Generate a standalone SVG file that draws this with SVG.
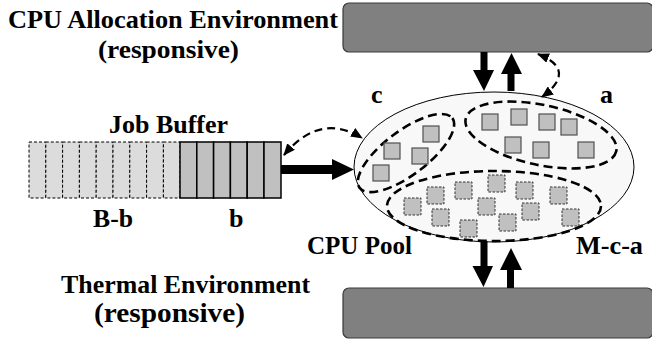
<svg xmlns="http://www.w3.org/2000/svg" width="652" height="345" viewBox="0 0 652 345">
<style>
.t{font-family:"Liberation Serif",serif;font-weight:bold;font-size:26px;fill:#000}
.env{fill:#808080;stroke:#3a3a3a;stroke-width:1.2}
.grp{fill:none;stroke:#000;stroke-width:2.6;stroke-dasharray:9,5}
.sq{fill:#c0c0c0;stroke:#505050;stroke-width:1.2}
.dsq{fill:#c0c0c0;stroke:#333;stroke-width:1;stroke-dasharray:2.5,1.5}
.cellD{fill:#dcdcdc;stroke:#000;stroke-width:1;stroke-dasharray:3,2}
.cellS{fill:#c0c0c0;stroke:#000;stroke-width:1.5}
.dl{fill:none;stroke:#000;stroke-width:2.2;stroke-dasharray:8,5}
.ar{fill:#000}
</style>
<defs>
<marker id="mh" viewBox="0 0 12 10" refX="11" refY="5" markerWidth="12" markerHeight="10" markerUnits="userSpaceOnUse" orient="auto-start-reverse">
<path d="M0,0 L12,5 L0,10 Z" fill="#000"/>
</marker>
</defs>

<g id="cpu-alloc-env">
<rect class="env" x="343" y="3" width="310" height="49" rx="6"/>
<text class="t" x="8" y="28" textLength="330" lengthAdjust="spacingAndGlyphs">CPU Allocation Environment</text>
<text class="t" x="98" y="57.5" textLength="141" lengthAdjust="spacingAndGlyphs">(responsive)</text>
</g>

<g id="thermal-env">
<rect class="env" x="343" y="288" width="310" height="50" rx="6"/>
<text class="t" x="61" y="293" textLength="249" lengthAdjust="spacingAndGlyphs">Thermal Environment</text>
<text class="t" x="94" y="322" style="font-size:27px" textLength="151" lengthAdjust="spacingAndGlyphs">(responsive)</text>
</g>

<g id="job-buffer">
<rect class="cellD" x="29" y="142" width="16.8" height="56"/>
<rect class="cellD" x="45.8" y="142" width="16.8" height="56"/>
<rect class="cellD" x="62.6" y="142" width="16.8" height="56"/>
<rect class="cellD" x="79.4" y="142" width="16.8" height="56"/>
<rect class="cellD" x="96.2" y="142" width="16.8" height="56"/>
<rect class="cellD" x="113" y="142" width="16.8" height="56"/>
<rect class="cellD" x="129.8" y="142" width="16.8" height="56"/>
<rect class="cellD" x="146.6" y="142" width="16.8" height="56"/>
<rect class="cellD" x="163.4" y="142" width="16.6" height="56"/>
<rect class="cellS" x="180" y="142" width="16.8" height="56"/>
<rect class="cellS" x="196.8" y="142" width="16.8" height="56"/>
<rect class="cellS" x="213.6" y="142" width="16.8" height="56"/>
<rect class="cellS" x="230.4" y="142" width="16.8" height="56"/>
<rect class="cellS" x="247.2" y="142" width="16.8" height="56"/>
<rect class="cellS" x="264" y="142" width="17" height="56"/>
<text class="t" x="109" y="133" textLength="119" lengthAdjust="spacingAndGlyphs">Job Buffer</text>
<text class="t" x="93" y="227" textLength="40" lengthAdjust="spacingAndGlyphs">B-b</text>
<text class="t" x="229" y="227">b</text>
</g>

<g id="cpu-pool">
<ellipse cx="494" cy="167" rx="140" ry="75" fill="#f8f8f8" stroke="#000" stroke-width="1"/>
<text class="t" x="307" y="254" textLength="105" lengthAdjust="spacingAndGlyphs">CPU Pool</text>
</g>

<g id="group-c">
<ellipse class="grp" cx="406" cy="153" rx="58" ry="22" transform="rotate(-37 406 153)"/>
<rect class="sq" x="423" y="126" width="16" height="16"/>
<rect class="sq" x="384" y="143" width="16" height="16"/>
<rect class="sq" x="412" y="148" width="16" height="16"/>
<rect class="sq" x="373" y="165" width="16" height="16"/>
<text class="t" x="371" y="103">c</text>
</g>

<g id="group-a">
<ellipse class="grp" cx="541" cy="135" rx="77" ry="30" transform="rotate(12 541 135)"/>
<rect class="sq" x="482" y="114" width="16" height="16"/>
<rect class="sq" x="511" y="109" width="16" height="16"/>
<rect class="sq" x="539" y="114" width="16" height="16"/>
<rect class="sq" x="561" y="119" width="16" height="16"/>
<rect class="sq" x="505" y="137" width="16" height="16"/>
<rect class="sq" x="533" y="142" width="16" height="16"/>
<rect class="sq" x="578" y="142" width="16" height="16"/>
<text class="t" x="600" y="103">a</text>
</g>

<g id="group-mca">
<ellipse class="grp" cx="494" cy="206" rx="107" ry="35"/>
<rect class="dsq" x="404" y="198" width="17" height="17"/>
<rect class="dsq" x="427" y="187" width="17" height="17"/>
<rect class="dsq" x="455" y="182" width="17" height="17"/>
<rect class="dsq" x="488" y="175" width="17" height="17"/>
<rect class="dsq" x="516" y="182" width="17" height="17"/>
<rect class="dsq" x="550" y="187" width="17" height="17"/>
<rect class="dsq" x="432" y="209" width="17" height="17"/>
<rect class="dsq" x="478" y="198" width="17" height="17"/>
<rect class="dsq" x="522" y="203" width="17" height="17"/>
<rect class="dsq" x="562" y="209" width="17" height="17"/>
<rect class="dsq" x="460" y="220" width="17" height="17"/>
<rect class="dsq" x="499" y="214" width="17" height="17"/>
<text class="t" x="576" y="254" textLength="67" lengthAdjust="spacingAndGlyphs">M-c-a</text>
</g>

<g id="connectors">
<path class="ar" d="M480.5,52 H487.5 V70 H494 L484,91 L473,70 H480.5 Z"/>
<path class="ar" d="M507.5,91 V74 H501 L511.5,53 L522,74 H514.5 V91 Z"/>
<path class="ar" d="M480.5,241 H487.5 V266 H493 L483.5,287 L472.5,266 H480.5 Z"/>
<path class="ar" d="M507,288 V270 H500 L511,248 L522,270 H514 V288 Z"/>
<path class="ar" d="M281,165 H332 V159 L354,169.5 L332,180 V174 H281 Z"/>
<path class="dl" d="M284,155 Q320,112 362,138" marker-start="url(#mh)" marker-end="url(#mh)"/>
<path class="dl" d="M538,54 Q578,70 542,97" marker-start="url(#mh)" marker-end="url(#mh)"/>
</g>
</svg>
